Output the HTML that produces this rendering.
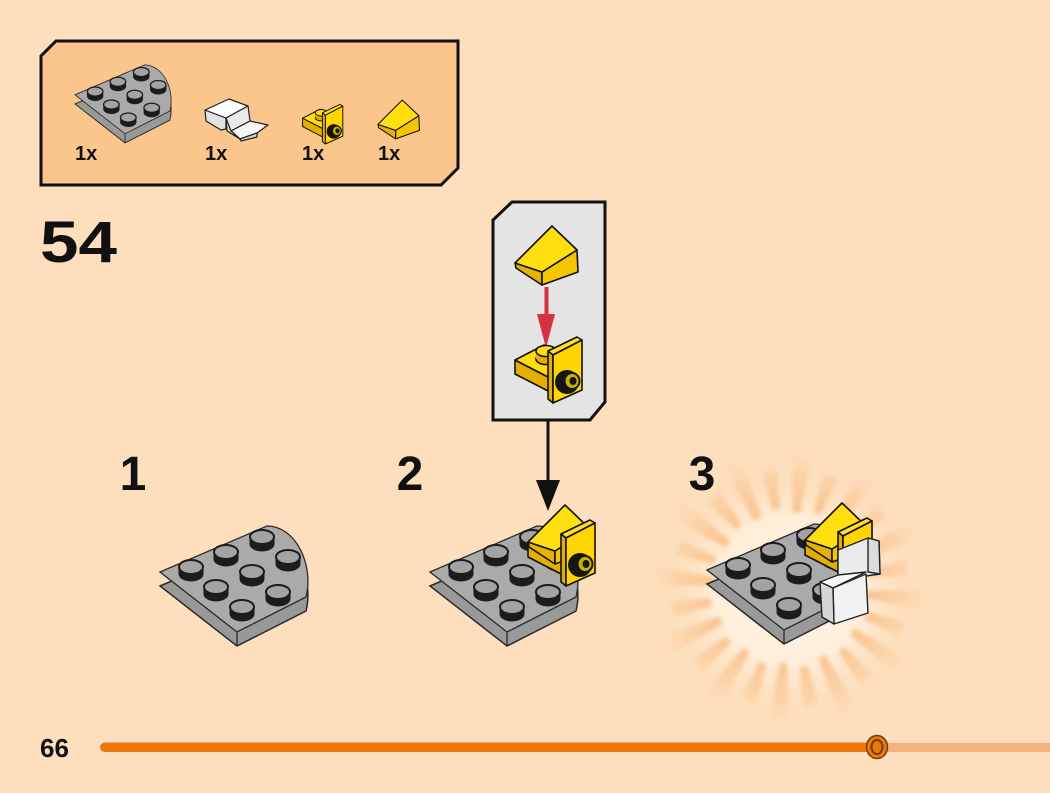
<!DOCTYPE html>
<html><head><meta charset="utf-8"><style>
html,body{margin:0;padding:0;background:#FEDFBD;}
svg{display:block;}
text{font-family:"Liberation Sans",sans-serif;font-weight:bold;fill:#111;}
</style></head><body>
<svg width="1050" height="793" viewBox="0 0 1050 793" xmlns="http://www.w3.org/2000/svg" xmlns:xlink="http://www.w3.org/1999/xlink">
<defs>
  <radialGradient id="rg" gradientUnits="userSpaceOnUse" cx="790" cy="588" r="150">
    <stop offset="0.45" stop-color="#F7B373" stop-opacity="0.85"/>
    <stop offset="0.75" stop-color="#F9C490" stop-opacity="0.5"/>
    <stop offset="1" stop-color="#FEDFBD" stop-opacity="0"/>
  </radialGradient>
  <radialGradient id="glow" gradientUnits="userSpaceOnUse" cx="790" cy="592" r="125">
    <stop offset="0" stop-color="#FFF8EE" stop-opacity="1"/>
    <stop offset="0.6" stop-color="#FFF1DF" stop-opacity="0.8"/>
    <stop offset="1" stop-color="#FEDFBD" stop-opacity="0"/>
  </radialGradient>
  <filter id="blur" x="-20%" y="-20%" width="140%" height="140%"><feGaussianBlur stdDeviation="2.2"/></filter>
  <polygon id="rayL" points="866,584 935,577 935,599 866,592" fill="url(#rg)"/>
  <polygon id="rayS" points="870,584 910,580 910,596 870,592" fill="url(#rg)"/>

  <g id="stud">
    <ellipse cx="0" cy="0" rx="12.5" ry="7.5" fill="#1c1c1c"/>
    <rect x="-12.5" y="-7" width="25" height="7" fill="#1c1c1c"/>
    <ellipse cx="0" cy="-7" rx="12" ry="7" fill="#a3a3a3" stroke="#1c1c1c" stroke-width="2"/>
  </g>

  <g id="plate">
    <path d="M160,586 L267,540 C296,540 314,579 306,611 L237,646 Z" fill="#999999" stroke="#2a2a2a" stroke-width="1.5"/>
    <path d="M160,572 L267,526 C296,526 314,565 306,597 L237,632 Z" fill="#aaaaaa" stroke="#2a2a2a" stroke-width="1.3"/>
    <line x1="237" y1="632" x2="237" y2="646" stroke="#2a2a2a" stroke-width="1.3"/>
    <use href="#stud" xlink:href="#stud" x="262" y="544"/>
    <use href="#stud" xlink:href="#stud" x="226" y="559"/>
    <use href="#stud" xlink:href="#stud" x="288" y="564"/>
    <use href="#stud" xlink:href="#stud" x="191" y="574"/>
    <use href="#stud" xlink:href="#stud" x="252" y="579"/>
    <use href="#stud" xlink:href="#stud" x="216" y="594"/>
    <use href="#stud" xlink:href="#stud" x="278" y="599"/>
    <use href="#stud" xlink:href="#stud" x="242" y="614"/>
  </g>

  <g id="slope" stroke="#111" stroke-width="1.6" stroke-linejoin="round">
    <polygon points="515,263 542,272 542,285 516,268" fill="#E6B200"/>
    <polygon points="542,272 577,250 578,272 542,285" fill="#F4C600"/>
    <polygon points="515,263 552,226 577,250 542,272" fill="#FFDF10"/>
  </g>

  <g id="bbase" stroke="#111" stroke-width="1.6" stroke-linejoin="round">
    <polygon points="515,360 550,378 550,392 515,374" fill="#E2AE00"/>
    <polygon points="515,360 544,345 576,361 550,378" fill="#FFDC10"/>
    <ellipse cx="546" cy="359" rx="10" ry="5.5" fill="#E2AE00"/>
    <rect x="536" y="351" width="20" height="8" fill="#E2AE00" stroke="none"/>
    <ellipse cx="546" cy="351" rx="10" ry="5.5" fill="#FFDC10"/>
  </g>
  <g id="bplate" stroke="#111" stroke-width="1.6" stroke-linejoin="round">
    <polygon points="548,351 553,355 553,403 548,399" fill="#E2AE00"/>
    <polygon points="548,351 577,337 582,340 553,355" fill="#FFE020"/>
    <polygon points="553,355 582,340 582,390 553,403" fill="#FFD400"/>
    <circle cx="567" cy="382" r="12" fill="#151515" stroke="none"/>
    <ellipse cx="572" cy="381" rx="7.5" ry="8" fill="#C9B200" stroke="#151515" stroke-width="2"/>
    <ellipse cx="573" cy="381" rx="3.5" ry="4" fill="#151515" stroke="none"/>
  </g>
</defs>

<rect x="0" y="0" width="1050" height="793" fill="#FEDFBD"/>

<!-- parts list box -->
<path d="M56,41 L458,41 L458,168 L441,185 L41,185 L41,56 Z" fill="#FBC68C" stroke="#111" stroke-width="3"/>
<use href="#plate" xlink:href="#plate" transform="translate(-29,-277) scale(0.65)"/>
<g stroke="#222" stroke-width="1.2" stroke-linejoin="round">
  <polygon points="205,110 206,121 221,130 226,129 226,118" fill="#e2e2e2"/>
  <polygon points="205,110 229,99 248,106 226,118" fill="#ffffff"/>
  <polygon points="226,118 248,106 250,121 231,131 226,129" fill="#eaeaea"/>
  <polygon points="231,131 250,121 268,125 257,133 240,139" fill="#f6f6f6"/>
  <polygon points="226,118 231,131 240,139 227,131" fill="#d8d8d8"/>
  <polygon points="240,139 257,133 257,137 241,141" fill="#d8d8d8"/>
</g>
<g transform="translate(-6.4,-97.8) scale(0.6)">
  <use href="#bbase" xlink:href="#bbase"/>
  <use href="#bplate" xlink:href="#bplate"/>
</g>
<use href="#slope" xlink:href="#slope" transform="translate(38,-49.2) scale(0.66)"/>
<text x="75" y="160" font-size="20">1x</text>
<text x="205" y="160" font-size="20">1x</text>
<text x="302" y="160" font-size="20">1x</text>
<text x="378" y="160" font-size="20">1x</text>

<text x="40" y="262" font-size="58" textLength="77" lengthAdjust="spacingAndGlyphs">54</text>

<!-- callout -->
<path d="M512,202 L605,202 L605,402 L590,420 L493,420 L493,220 Z" fill="#E4E4E4" stroke="#111" stroke-width="3"/>
<use href="#slope" xlink:href="#slope"/>
<rect x="544.5" y="287" width="4" height="32" fill="#D4323F"/>
<polygon points="537,314 555,314 546,348" fill="#D4323F"/>
<use href="#bbase" xlink:href="#bbase"/>
<use href="#bplate" xlink:href="#bplate"/>

<line x1="548" y1="421" x2="548" y2="484" stroke="#111" stroke-width="3"/>
<polygon points="536,480 560,480 548,511" fill="#111"/>

<text x="133" y="490" font-size="48" text-anchor="middle">1</text>
<text x="410" y="490" font-size="48" text-anchor="middle">2</text>
<text x="702" y="490" font-size="48" text-anchor="middle">3</text>

<use href="#plate" xlink:href="#plate"/>

<use href="#plate" xlink:href="#plate" transform="translate(270,0)"/>
<g transform="translate(13,183)"><use href="#bbase" xlink:href="#bbase"/></g>
<use href="#slope" xlink:href="#slope" transform="translate(13,279)"/>
<g transform="translate(13,183)"><use href="#bplate" xlink:href="#bplate"/></g>

<ellipse cx="790" cy="592" rx="125" ry="118" fill="url(#glow)"/>
<g filter="url(#blur)">
  <use href="#rayL" xlink:href="#rayL" transform="rotate(5 790 588)"/>
  <use href="#rayS" xlink:href="#rayS" transform="rotate(20 790 588)"/>
  <use href="#rayL" xlink:href="#rayL" transform="rotate(35 790 588)"/>
  <use href="#rayS" xlink:href="#rayS" transform="rotate(50 790 588)"/>
  <use href="#rayL" xlink:href="#rayL" transform="rotate(65 790 588)"/>
  <use href="#rayS" xlink:href="#rayS" transform="rotate(80 790 588)"/>
  <use href="#rayL" xlink:href="#rayL" transform="rotate(95 790 588)"/>
  <use href="#rayS" xlink:href="#rayS" transform="rotate(110 790 588)"/>
  <use href="#rayL" xlink:href="#rayL" transform="rotate(125 790 588)"/>
  <use href="#rayS" xlink:href="#rayS" transform="rotate(140 790 588)"/>
  <use href="#rayL" xlink:href="#rayL" transform="rotate(155 790 588)"/>
  <use href="#rayS" xlink:href="#rayS" transform="rotate(170 790 588)"/>
  <use href="#rayL" xlink:href="#rayL" transform="rotate(185 790 588)"/>
  <use href="#rayS" xlink:href="#rayS" transform="rotate(200 790 588)"/>
  <use href="#rayL" xlink:href="#rayL" transform="rotate(215 790 588)"/>
  <use href="#rayS" xlink:href="#rayS" transform="rotate(230 790 588)"/>
  <use href="#rayL" xlink:href="#rayL" transform="rotate(245 790 588)"/>
  <use href="#rayS" xlink:href="#rayS" transform="rotate(260 790 588)"/>
  <use href="#rayL" xlink:href="#rayL" transform="rotate(275 790 588)"/>
  <use href="#rayS" xlink:href="#rayS" transform="rotate(290 790 588)"/>
  <use href="#rayL" xlink:href="#rayL" transform="rotate(305 790 588)"/>
  <use href="#rayS" xlink:href="#rayS" transform="rotate(320 790 588)"/>
  <use href="#rayL" xlink:href="#rayL" transform="rotate(335 790 588)"/>
  <use href="#rayS" xlink:href="#rayS" transform="rotate(350 790 588)"/>
</g>

<use href="#plate" xlink:href="#plate" transform="translate(547,-2)"/>
<g transform="translate(290,181)"><use href="#bbase" xlink:href="#bbase"/></g>
<use href="#slope" xlink:href="#slope" transform="translate(290,277)"/>
<g transform="translate(290,181)"><use href="#bplate" xlink:href="#bplate"/></g>
<g stroke="#222" stroke-width="1.4" stroke-linejoin="round">
  <polygon points="838,550 868,538 879,541 880,574 866,576 850,580 838,575" fill="#ebebeb"/>
  <polygon points="868,538 879,541 880,574 868,572" fill="#dcdcdc"/>
  <polygon points="820,582 838,575 866,572 833,588" fill="#f7f7f7"/>
  <polygon points="833,588 866,574 868,613 834,624" fill="#f2f2f2"/>
  <polygon points="820,582 833,588 834,624 822,617" fill="#d6d6d6"/>
</g>

<text x="40" y="757" font-size="26">66</text>
<rect x="874" y="743" width="180" height="9" fill="#F6B27C"/>
<rect x="100" y="742.5" width="780" height="9.5" rx="4.75" fill="#EC7A0B"/>
<ellipse cx="877" cy="747" rx="10.5" ry="11.5" fill="#E67A12" stroke="#7a3a00" stroke-width="1.5"/>
<ellipse cx="877" cy="747" rx="5.5" ry="7" fill="none" stroke="#7a3a00" stroke-width="2"/>
</svg>
</body></html>
